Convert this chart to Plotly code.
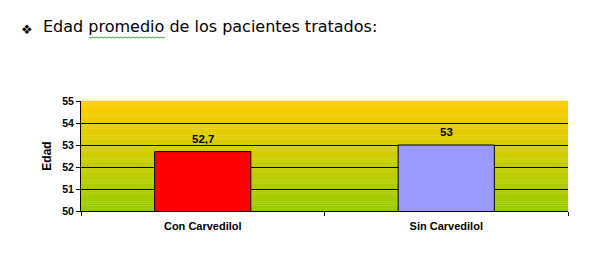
import plotly.graph_objects as go

categories = ["Con Carvedilol", "Sin Carvedilol"]
values = [52.7, 53]
bar_colors = ["#FF0000", "#9999FF"]
y_ticks = [50, 51, 52, 53, 54, 55]
title_text = "Edad promedio de los pacientes tratados:"
y_title = "Edad"

W, H = 598, 259
L, R, T, B = 81, 30, 101, 48
PW, PH = W - L - R, H - T - B

def px_x(px):
    return (px - L) / PW

def px_y(py):
    return 1 - (py - T) / PH

fig = go.Figure()
fig.add_trace(go.Bar(
    x=categories, y=values,
    marker=dict(color=bar_colors, line=dict(color="#000000", width=1)),
    width=0.395,
    cliponaxis=False,
))

# vertical gradient background (yellow-orange top -> green bottom)
def lerp(c1, c2, t):
    return tuple(round(a + (b - a) * t) for a, b in zip(c1, c2))

top = (255, 204, 0)
bot = (153, 204, 0)
N = 60
shapes = []
for i in range(N):
    t = i / (N - 1)
    c = lerp(bot, top, t)
    shapes.append(dict(type="rect", xref="x domain", yref="y domain",
                       x0=0, x1=1, y0=i / N, y1=(i + 1) / N + 0.002,
                       fillcolor="rgb(%d,%d,%d)" % c, line=dict(width=0),
                       layer="below"))
# spell-check squiggle under "promedio"
sq = "M %f %f" % (px_x(89), px_y(37))
for k in range(1, 39):
    xx = 89 + k * 2
    yy = 37 + (1 if k % 2 else 0)
    sq += " L %f %f" % (px_x(xx), px_y(yy))
shapes.append(dict(type="path", xref="paper", yref="paper", path=sq,
                   line=dict(color="#33AA33", width=1), layer="above"))

annotations = [
    dict(text="❖", xref="paper", yref="paper", x=px_x(19), y=px_y(29),
         xanchor="left", yanchor="middle", showarrow=False,
         font=dict(family="DejaVu Sans", size=13, color="#000000")),
    dict(text=title_text, xref="paper", yref="paper", x=px_x(41), y=px_y(27),
         xanchor="left", yanchor="middle", showarrow=False,
         font=dict(family="DejaVu Sans", size=16, color="#000000")),
]
for c, v in zip(categories, values):
    annotations.append(dict(
        x=c, y=v, xref="x", yref="y", text=("%g" % v).replace(".", ","),
        showarrow=False, yanchor="bottom", yshift=5,
        font=dict(family="Liberation Sans, Arial", size=11.5, color="#000000", weight="bold"),
    ))

fig.update_layout(
    width=W, height=H,
    margin=dict(l=L, r=R, t=T, b=B, pad=0),
    paper_bgcolor="#FFFFFF",
    plot_bgcolor="rgba(0,0,0,0)",
    separators=", ",
    showlegend=False,
    shapes=shapes,
    bargap=0.6,
    annotations=annotations,
    xaxis=dict(
        type="category",
        showline=True, linecolor="#000000", linewidth=1,
        ticks="outside", tickson="boundaries", ticklen=4, tickcolor="#000000",
        ticklabelstandoff=5,
        tickfont=dict(family="Liberation Sans, Arial", size=11, color="#000000", weight="bold"),
        showgrid=False, zeroline=False, fixedrange=True,
    ),
    yaxis=dict(
        range=[50, 55], tickvals=y_ticks,
        showline=True, linecolor="#000000", linewidth=1,
        ticks="outside", ticklen=4, tickcolor="#000000",
        showgrid=True, gridcolor="#000000", gridwidth=1,
        zeroline=False,
        tickfont=dict(family="Liberation Sans, Arial", size=10.5, color="#000000", weight="bold"),
        title=dict(text=y_title, standoff=8,
                   font=dict(family="Liberation Sans, Arial", size=12, color="#000000", weight="bold")),
    ),
)

fig.write_html("out.html")
